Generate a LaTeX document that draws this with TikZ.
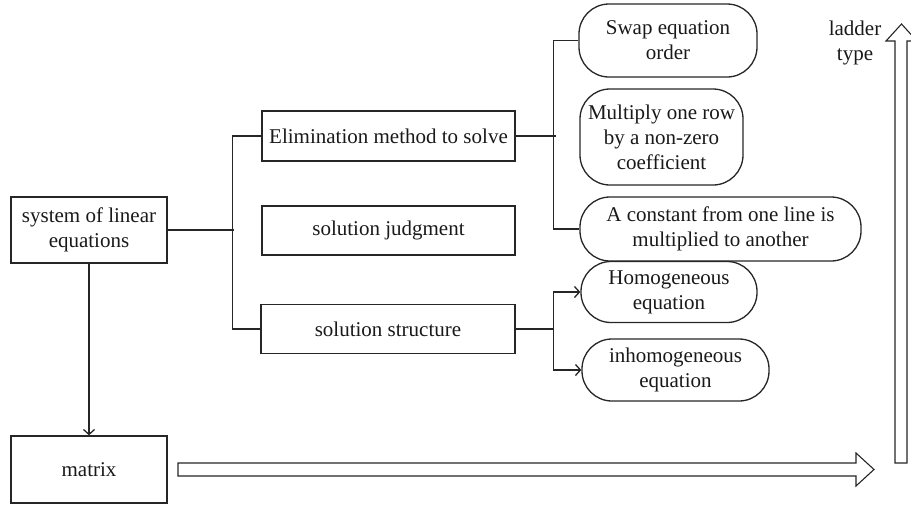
\documentclass[tikz,border=0pt]{standalone}
\usepackage{fontspec}
\setmainfont{Liberation Serif}
\usetikzlibrary{positioning,arrows.meta}

\begin{document}
\begin{tikzpicture}
        [x=1pt, y=-1pt,
          every node/.style={font=\fontsize{21}{25}\selectfont, text=black!90},
          box/.style={draw=black!85, line width=1.3pt, align=center, inner sep=0pt},
          pill/.style={box, rounded corners=30pt},
          link/.style={draw=black!85, line width=1.3pt},
          >={Straight Barb[length=5pt,width=11pt]},
          bigarrow/.style={draw=black!85, line width=1.1pt, fill=white}]
        \useasboundingbox (0,0) rectangle (911,504);
        \node[box, minimum width=156pt, minimum height=66pt] (sys) at (89,230) {system of linear\\equations};
        \node[box, minimum width=156pt, minimum height=67pt] (mtx) at (89,469.5) {matrix};
        \node[box, minimum width=253pt, minimum height=50pt] (elim) at (388.5,136) {Elimination method to solve};
        \node[box, minimum width=253pt, minimum height=49pt] (judg) at (388.5,230.5) {solution judgment};
        \node[box, minimum width=254pt, minimum height=49pt] (struc) at (388,329) {solution structure};
        \node[pill, minimum width=178pt, minimum height=73pt] (swap) at (668,40.5) {Swap equation\\order};
        \node[pill, minimum width=163pt, minimum height=96pt] (multi) at (661.5,137) {Multiply one row\\by a non-zero\\coefficient};
        \node[pill, minimum width=281pt, minimum height=64pt] (const) at (720.5,229) {A constant from one line is\\multiplied to another};
        \node[pill, minimum width=176pt, minimum height=61pt] (homo) at (669,292) {Homogeneous\\equation};
        \node[pill, minimum width=187pt, minimum height=62pt] (inhomo) at (675.5,370) {inhomogeneous\\equation};
        \node[align=center] (ladder) at (855,43) {ladder\\type};
        % tree lines
        \draw[link] (sys.east) -- ++(66,0);
        \draw[link] (elim.west) -- ++(-29,0) |- (struc.west);
        \draw[link] (elim.east) -- ++(40,0);
        \draw[link] (swap.west) -- ++(-25,0) |- (const.west);
        \draw[link] (struc.east) -- ++(38,0) coordinate (fork);
        \draw[link,->] (fork) |- (homo.west);
        \draw[link,->] (fork) |- (inhomo.west);
        \draw[link,->] (sys.south) -- (mtx.north);
        % open arrows
        \draw[bigarrow] (178,463) -- (856,463) -- (856,453) -- (874,469.5)
          -- (856,486) -- (856,476) -- (178,476) -- cycle;
        \draw[bigarrow] (895,463) -- (895,41) -- (886,41) -- (901.5,24)
          -- (917,41) -- (907,41) -- (907,463) -- cycle;
      \end{tikzpicture}
\end{document}
